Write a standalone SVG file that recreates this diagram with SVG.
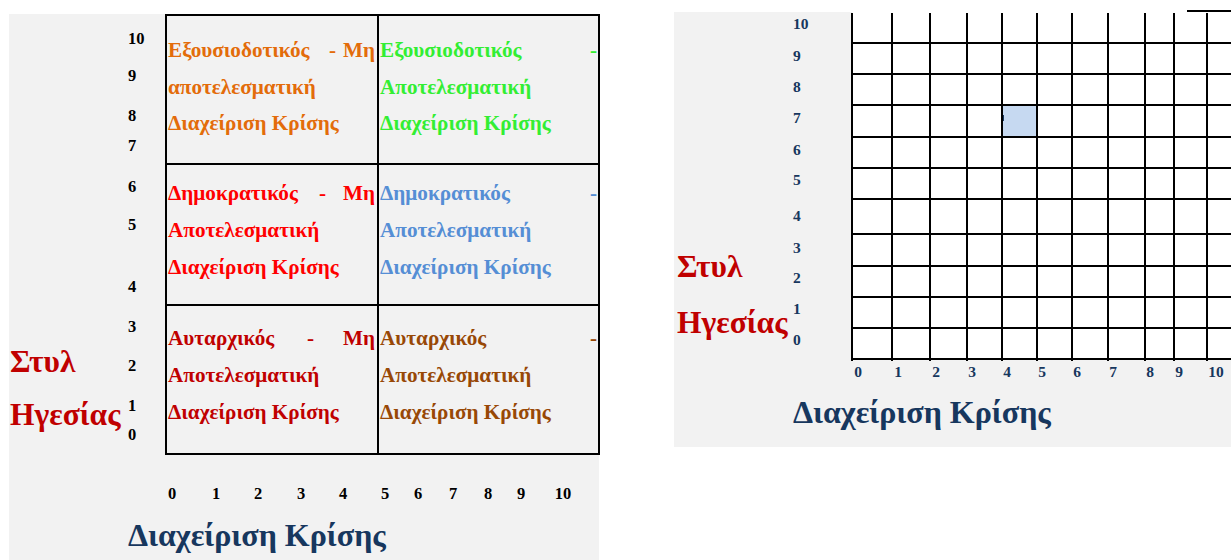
<svg xmlns="http://www.w3.org/2000/svg" width="1231" height="560" viewBox="0 0 1231 560">
<style>
text{font-family:"Liberation Serif","Times New Roman",serif;font-weight:bold}
.q{font-size:21.2px}
.ax{font-size:16.5px;fill:#000}
.axn{font-size:15.5px;fill:#17375E}
.ttl{font-size:32px;fill:#17375E}
.yl{font-size:31.5px;fill:#C00000}
.or{fill:#E36C0A}.gr{fill:#33EE33}.rd{fill:#FF0000}.bl{fill:#558ED5}.dr{fill:#C00000}.br{fill:#984806}
.ln{stroke:#000;stroke-width:2;fill:none}
.m{text-anchor:middle}.e{text-anchor:end}
</style>
<rect width="1231" height="560" fill="#fff"/>
<g id="left-panel">
<rect x="9" y="14" width="590" height="546" fill="#F2F2F2"/>
<g id="quadrant-grid">
<rect class="ln" x="166" y="15" width="433" height="439"/>
<line class="ln" x1="378" y1="15" x2="378" y2="454"/>
<line class="ln" x1="166" y1="164" x2="599" y2="164"/>
<line class="ln" x1="166" y1="305" x2="599" y2="305"/>
</g>
<g id="q-auth-ineff" class="q or">
<text x="168" y="57">Εξουσιοδοτικός</text><text x="329" y="57">-</text><text class="e" x="375" y="57">Μη</text>
<text x="168" y="94">αποτελεσματική</text>
<text x="168" y="130">Διαχείριση Κρίσης</text>
</g>
<g id="q-auth-eff" class="q gr">
<text x="380" y="57">Εξουσιοδοτικός</text><text class="e" x="597" y="57">-</text>
<text x="380" y="94">Αποτελεσματική</text>
<text x="380" y="130">Διαχείριση Κρίσης</text>
</g>
<g id="q-demo-ineff" class="q rd">
<text x="168" y="200">Δημοκρατικός</text><text x="319" y="200">-</text><text class="e" x="375" y="200">Μη</text>
<text x="168" y="237">Αποτελεσματική</text>
<text x="168" y="274">Διαχείριση Κρίσης</text>
</g>
<g id="q-demo-eff" class="q bl">
<text x="380" y="200">Δημοκρατικός</text><text class="e" x="597" y="200">-</text>
<text x="380" y="237">Αποτελεσματική</text>
<text x="380" y="274">Διαχείριση Κρίσης</text>
</g>
<g id="q-autoc-ineff" class="q dr">
<text x="168" y="345">Αυταρχικός</text><text x="307" y="345">-</text><text class="e" x="375" y="345">Μη</text>
<text x="168" y="382">Αποτελεσματική</text>
<text x="168" y="419">Διαχείριση Κρίσης</text>
</g>
<g id="q-autoc-eff" class="q br">
<text x="380" y="345">Αυταρχικός</text><text class="e" x="597" y="345">-</text>
<text x="380" y="382">Αποτελεσματική</text>
<text x="380" y="419">Διαχείριση Κρίσης</text>
</g>
<g id="left-y-axis" class="ax">
<text x="128" y="44">10</text><text x="128" y="81">9</text><text x="128" y="121">8</text><text x="128" y="151">7</text>
<text x="128" y="192">6</text><text x="128" y="230">5</text><text x="128" y="292">4</text><text x="128" y="332">3</text>
<text x="128" y="371">2</text><text x="128" y="411">1</text><text x="128" y="440">0</text>
</g>
<g id="left-x-axis" class="ax m">
<text x="172" y="499">0</text><text x="216" y="499">1</text><text x="258" y="499">2</text><text x="301" y="499">3</text>
<text x="343" y="499">4</text><text x="385" y="499">5</text><text x="418" y="499">6</text><text x="453" y="499">7</text>
<text x="488" y="499">8</text><text x="521" y="499">9</text><text x="563" y="499">10</text>
</g>
<g id="left-y-title" class="yl">
<text x="10" y="372">Στυλ</text>
<text x="10" y="425">Ηγεσίας</text>
</g>
<text id="left-x-title" class="ttl" x="128" y="546">Διαχείριση Κρίσης</text>
</g>
<g id="right-panel">
<path d="M674 12H852V359H1231V447H674Z" fill="#F2F2F2"/>
<rect id="highlight-cell" x="1002" y="105" width="35" height="32" fill="#C6D9F1"/>
<rect x="1002" y="115" width="2" height="6" fill="#17375E"/>
<g id="grid" class="ln">
<path d="M852 13V361M892 13V361M930 13V361M967 13V361M1002 13V361M1037 13V361M1072 13V361M1108 13V361M1145 13V361M1174 13V361M1207 13V361"/>
<path d="M852 43H1231M852 74H1231M852 105H1231M852 137H1231M852 168H1231M852 199H1231M852 234H1231M852 266H1231M852 297H1231M852 328H1231M851 359H1231"/>
<path d="M1187 11H1231"/>
</g>
<g id="right-y-axis" class="axn">
<text x="793" y="29">10</text><text x="793" y="61">9</text><text x="793" y="92">8</text><text x="793" y="123">7</text>
<text x="793" y="155">6</text><text x="793" y="185">5</text><text x="793" y="221">4</text><text x="793" y="253">3</text>
<text x="793" y="283">2</text><text x="793" y="314">1</text><text x="793" y="345">0</text>
</g>
<g id="right-x-axis" class="axn m">
<text x="858" y="377">0</text><text x="898" y="377">1</text><text x="936" y="377">2</text><text x="972" y="377">3</text>
<text x="1007" y="377">4</text><text x="1042" y="377">5</text><text x="1077" y="377">6</text><text x="1113" y="377">7</text>
<text x="1150" y="377">8</text><text x="1179" y="377">9</text><text x="1216" y="377">10</text>
</g>
<g id="right-y-title" class="yl">
<text x="677" y="277">Στυλ</text>
<text x="677" y="333">Ηγεσίας</text>
</g>
<text id="right-x-title" class="ttl" x="793" y="423">Διαχείριση Κρίσης</text>
</g>
<g id="connectors"/>
</svg>
